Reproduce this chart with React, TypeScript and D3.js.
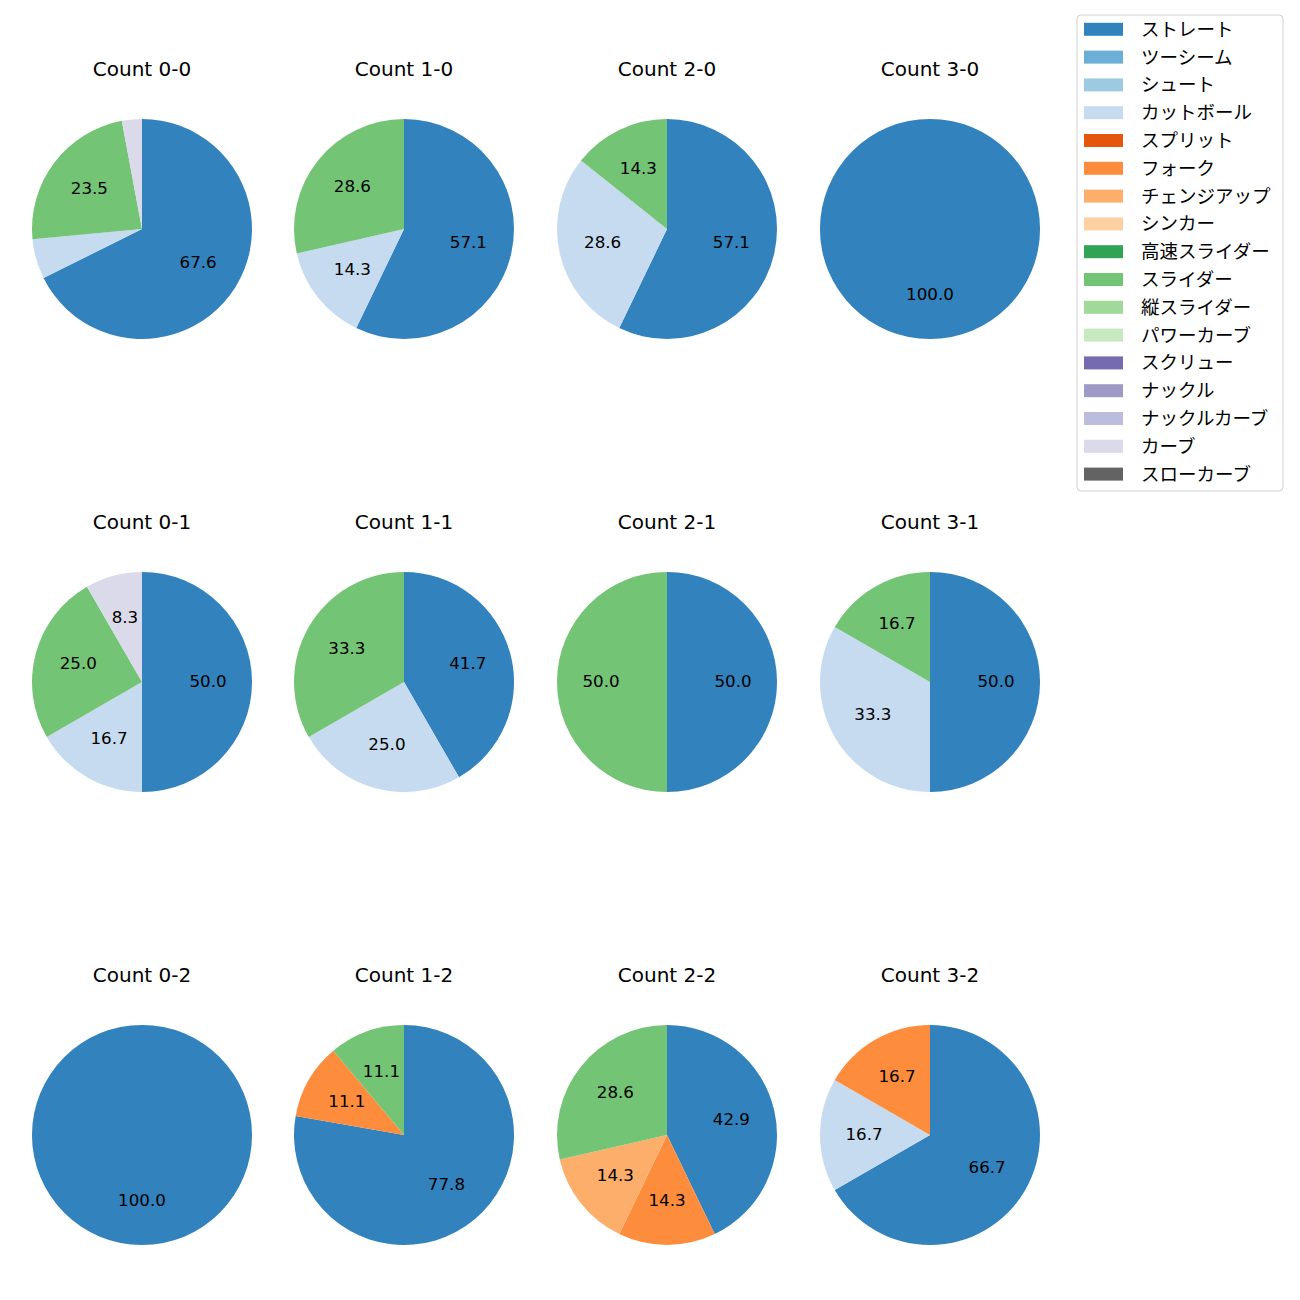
import React from "react";
import * as d3 from "d3";

const pitchTypes = [
  "ストレート", "ツーシーム", "シュート", "カットボール", "スプリット", "フォーク",
  "チェンジアップ", "シンカー", "高速スライダー", "スライダー", "縦スライダー",
  "パワーカーブ", "スクリュー", "ナックル", "ナックルカーブ", "カーブ", "スローカーブ",
];
const pitchColors = [
  "#3182bd", "#6baed6", "#9ecae1", "#c6dbef", "#e6550d", "#fd8d3c", "#fdae6b",
  "#fdd0a2", "#31a354", "#74c476", "#a1d99b", "#c7e9c0", "#756bb1", "#9e9ac8",
  "#bcbddc", "#dadaeb", "#636363",
];

const countLabels = [
  "Count 0-0", "Count 1-0", "Count 2-0", "Count 3-0",
  "Count 0-1", "Count 1-1", "Count 2-1", "Count 3-1",
  "Count 0-2", "Count 1-2", "Count 2-2", "Count 3-2",
];

// pitch counts per ball-strike count, in pitchTypes order
const c00 = [23, 0, 0, 2, 0, 0, 0, 0, 0, 8, 0, 0, 0, 0, 0, 1, 0];
const c10 = [4, 0, 0, 1, 0, 0, 0, 0, 0, 2, 0, 0, 0, 0, 0, 0, 0];
const c20 = [4, 0, 0, 2, 0, 0, 0, 0, 0, 1, 0, 0, 0, 0, 0, 0, 0];
const c30 = [1, 0, 0, 0, 0, 0, 0, 0, 0, 0, 0, 0, 0, 0, 0, 0, 0];
const c01 = [6, 0, 0, 2, 0, 0, 0, 0, 0, 3, 0, 0, 0, 0, 0, 1, 0];
const c11 = [5, 0, 0, 3, 0, 0, 0, 0, 0, 4, 0, 0, 0, 0, 0, 0, 0];
const c21 = [1, 0, 0, 0, 0, 0, 0, 0, 0, 1, 0, 0, 0, 0, 0, 0, 0];
const c31 = [3, 0, 0, 2, 0, 0, 0, 0, 0, 1, 0, 0, 0, 0, 0, 0, 0];
const c02 = [1, 0, 0, 0, 0, 0, 0, 0, 0, 0, 0, 0, 0, 0, 0, 0, 0];
const c12 = [7, 0, 0, 0, 0, 1, 0, 0, 0, 1, 0, 0, 0, 0, 0, 0, 0];
const c22 = [3, 0, 0, 0, 0, 1, 1, 0, 0, 2, 0, 0, 0, 0, 0, 0, 0];
const c32 = [4, 0, 0, 1, 0, 1, 0, 0, 0, 0, 0, 0, 0, 0, 0, 0, 0];

const countData = [c00, c10, c20, c30, c01, c11, c21, c31, c02, c12, c22, c32];

const FONT = "'Noto Sans CJK JP', 'Noto Sans', sans-serif";
const LATIN = "'DejaVu Sans', sans-serif";

const colX = [142, 404, 667, 930];
const rowY = [229, 682, 1135];
const R = 110;

function Pie({ values, cx, cy, title }: { values: number[]; cx: number; cy: number; title: string }) {
  const items = values
    .map((v, i) => ({ v, i }))
    .filter((d) => d.v > 0);
  const total = d3.sum(items, (d) => d.v);
  const pie = d3.pie<{ v: number; i: number }>().sort(null).value((d) => d.v).startAngle(0).endAngle(2 * Math.PI);
  const arcs = pie(items);
  const arc = d3.arc<d3.PieArcDatum<{ v: number; i: number }>>().innerRadius(0).outerRadius(R);
  const labelArc = d3.arc<d3.PieArcDatum<{ v: number; i: number }>>().innerRadius(R * 0.6).outerRadius(R * 0.6);
  return (
    <g>
      <text x={cx} y={cy - 160} textAnchor="middle" dominantBaseline="central" fontSize={20} fontFamily={LATIN} fill="#000">
        {title}
      </text>
      <g transform={`translate(${cx},${cy})`}>
        {arcs.map((a) => (
          <path key={a.data.i} d={arc(a) || ""} fill={pitchColors[a.data.i]} />
        ))}
        {arcs.map((a) => {
          const pct = (a.data.v / total) * 100;
          if (pct < 7) return null;
          const [lx, ly] = labelArc.centroid(a);
          return (
            <text key={"l" + a.data.i} x={lx} y={ly - 1.5} textAnchor="middle" dominantBaseline="central" fontSize={16.7} fontFamily={LATIN} fill="#000">
              {pct.toFixed(1)}
            </text>
          );
        })}
      </g>
    </g>
  );
}

export default function App() {
  const legendX = 1077;
  const legendY = 15;
  const step = 27.8;
  return (
    <svg width={1300} height={1300} style={{ display: "block", position: "absolute", left: 0, top: 0 }}>
      <rect x={0} y={0} width={1300} height={1300} fill="#fff" />
      {countData.map((vals, k) => (
        <Pie key={k} values={vals} cx={colX[k % 4]} cy={rowY[Math.floor(k / 4)]} title={countLabels[k]} />
      ))}
      <rect x={legendX} y={legendY} width={206} height={476} rx={4} fill="#fff" stroke="#d0d0d0" strokeWidth={1} />
      {pitchTypes.map((p, i) => {
        const y = legendY + 14.3 + i * step;
        return (
          <g key={p}>
            <rect x={1084} y={y - 6.5} width={39} height={13} fill={pitchColors[i]} />
            <text x={1141} y={y - 1.5} dominantBaseline="central" fontSize={18.5} fontFamily={FONT} fill="#000">
              {p}
            </text>
          </g>
        );
      })}
    </svg>
  );
}
